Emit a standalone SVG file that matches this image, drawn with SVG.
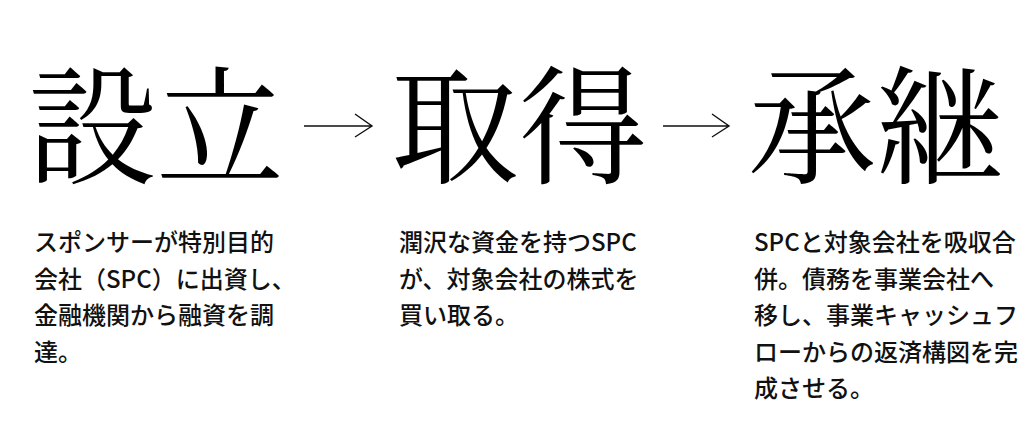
<svg xmlns="http://www.w3.org/2000/svg" width="1035" height="448" viewBox="0 0 1035 448">
<style>
.title{font-family:"Noto Serif CJK JP","Noto Serif JP","IPAMincho","Noto Sans CJK JP",serif;font-size:128px;fill:#000;}
.body{font-family:"Noto Sans CJK JP","Noto Sans",sans-serif;font-size:24px;font-weight:500;fill:#111;}
.arrow{fill:none;stroke:#111;stroke-width:1.4;}
</style>
<rect width="1035" height="448" fill="#fff"/>
<g id="node-setsuritsu">
<text class="title" x="28" y="174">設立</text>
<text class="body" x="34" y="251">スポンサーが特別目的</text>
<text class="body" x="34" y="287.5">会社（SPC）に出資し、</text>
<text class="body" x="34" y="324">金融機関から融資を調</text>
<text class="body" x="34" y="360.5">達。</text>
</g>
<g id="node-shutoku">
<text class="title" x="391" y="174">取得</text>
<text class="body" x="399" y="251">潤沢な資金を持つSPC</text>
<text class="body" x="399" y="287.5">が、対象会社の株式を</text>
<text class="body" x="399" y="324">買い取る。</text>
</g>
<g id="node-shokei">
<text class="title" x="748" y="174">承継</text>
<text class="body" x="754" y="251">SPCと対象会社を吸収合</text>
<text class="body" x="754" y="287.5">併。債務を事業会社へ</text>
<text class="body" x="754" y="324">移し、事業キャッシュフ</text>
<text class="body" x="754" y="360.5">ローからの返済構図を完</text>
<text class="body" x="754" y="397">成させる。</text>
</g>
<g id="connectors">
<path class="arrow" d="M304 126H372M355 114L372 126L355 137"/>
<path class="arrow" d="M663 126H729M712 114L729 126L712 137"/>
</g>
</svg>
